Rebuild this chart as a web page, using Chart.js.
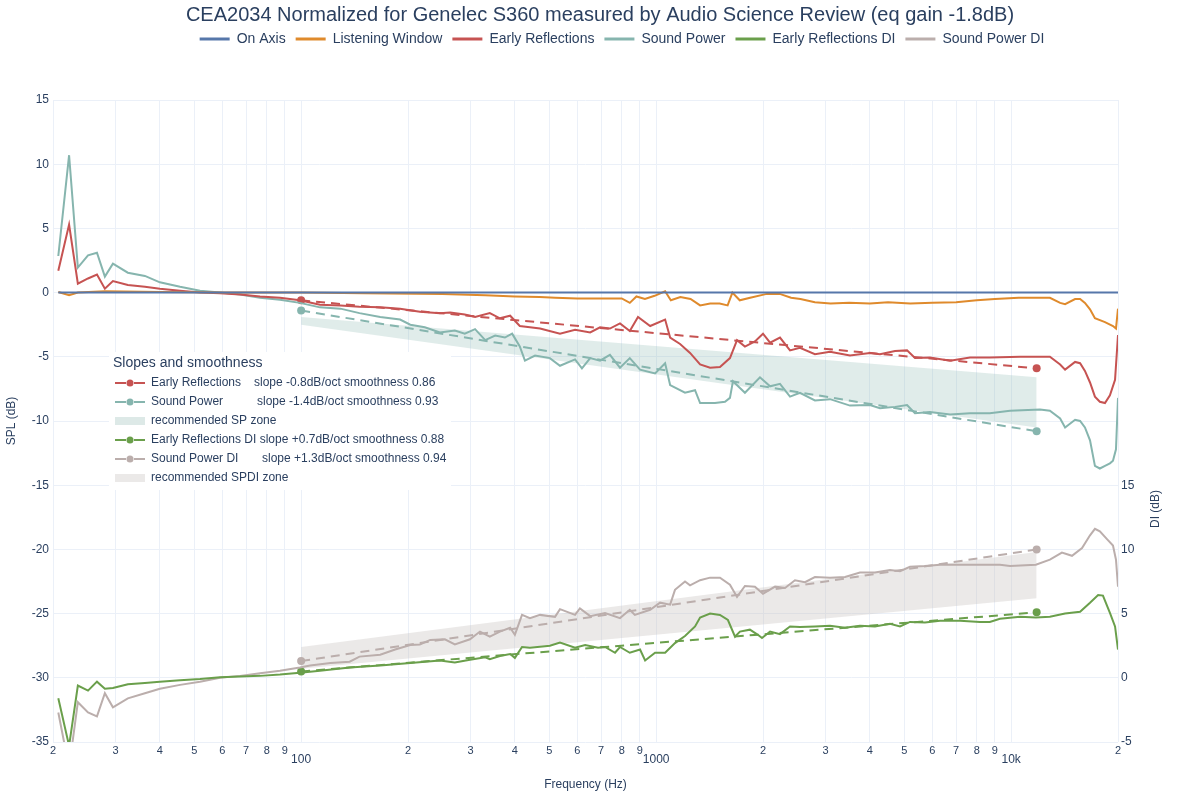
<!DOCTYPE html>
<html>
<head>
<meta charset="utf-8">
<title>CEA2034 Genelec S360</title>
<script src="https://cdn.jsdelivr.net/npm/chart.js@4.4.1/dist/chart.umd.min.js"></script>
<style>
  html, body { margin: 0; padding: 0; background: #fff; }
  #wrap { width: 1200px; height: 800px; }
</style>
</head>
<body>
<div id="wrap"><canvas id="cea"></canvas></div>
<script>
// data (Hz / dB)
const onAxisFreq = [20.7, 20000];
const onAxisSpl = [0, 0];

const lwFreq = [20.7, 22.2, 23.5, 28, 40, 60, 100, 150, 250, 330,
    400, 470, 520, 600, 700, 800, 843, 880, 930, 990,
    1060, 1100, 1170, 1250, 1330, 1420, 1510, 1590, 1640, 1720,
    1840, 2050, 2230, 2400, 2550, 2800, 3100, 3500, 4000, 4500,
    5200, 6000, 7000, 8000, 9000, 10500, 12000, 12860, 13740, 14190,
    15140, 15640, 16140, 16680, 17220, 18380, 19360, 19740, 20000];
const lwSpl = [0.05, -0.2, 0.0, 0.1, 0.05, 0.0, 0.0, -0.05, -0.1, -0.2,
    -0.3, -0.35, -0.4, -0.45, -0.45, -0.45, -0.8, -0.3, -0.5, -0.25,
    0.1, -0.6, -0.35, -0.5, -1.0, -0.85, -0.85, -1.0, 0.0, -0.6,
    -0.4, -0.1, -0.1, -0.4, -0.5, -0.75, -0.85, -0.8, -0.85, -0.75,
    -0.85, -0.8, -0.75, -0.6, -0.5, -0.4, -0.4, -0.4, -0.8, -0.9,
    -0.5, -0.5, -0.8, -1.3, -2.0, -2.3, -2.6, -2.8, -1.25];

const erFreq = [20.7, 22.2, 23.5, 25.1, 26.6, 28.0, 29.5, 32.5, 36.3, 40,
    45.6, 51.9, 59.1, 67.3, 76.6, 87.2, 99.2, 113, 129, 146,
    167, 190, 216, 246, 263, 289, 309, 340, 363, 388,
    413, 441, 471, 536, 591, 652, 695, 741, 791, 843,
    889, 962, 1060, 1095, 1168, 1246, 1330, 1419, 1513, 1614,
    1690, 1779, 1898, 2000, 2094, 2233, 2383, 2542, 2801, 3089,
    3516, 4002, 4271, 4710, 5091, 5359, 5905, 6729, 7660, 8710,
    10600, 12060, 12860, 13740, 14190, 15140, 15640, 16140, 16680, 17220,
    17780, 18380, 18980, 19620, 20000];
const erSpl = [1.7, 5.3, 0.7, 1.1, 1.4, 0.3, 0.9, 0.6, 0.45, 0.3,
    0.15, 0.0, -0.05, -0.15, -0.3, -0.4, -0.6, -0.95, -1.0, -1.1,
    -1.15, -1.25, -1.5, -1.6, -1.55, -1.7, -1.9, -1.6, -2.0, -1.8,
    -2.6, -2.7, -2.8, -3.2, -2.9, -3.1, -2.7, -2.8, -2.4, -3.0,
    -1.9, -2.6, -2.1, -3.5, -4.0, -4.7, -5.6, -5.85, -5.8, -5.1,
    -3.7, -4.2, -3.8, -3.2, -3.9, -3.5, -4.5, -4.3, -4.8, -4.6,
    -4.9, -4.7, -4.8, -4.55, -4.5, -5.1, -5.05, -5.3, -5.05, -5.05,
    -5.0, -5.0, -5.0, -5.6, -6.0, -5.4, -5.5, -6.1, -7.0, -8.1,
    -8.5, -8.6, -8.0, -6.8, -3.3];

const spFreq = [20.7, 22.2, 23.5, 25.1, 26.6, 28.0, 29.5, 32.5, 36.3, 40,
    45.6, 51.9, 59.1, 67.3, 76.6, 87.2, 99.2, 113, 129, 146,
    167, 190, 203, 223, 246, 271, 289, 309, 330, 352,
    375, 393, 413, 427, 456, 502, 536, 591, 618, 652,
    695, 741, 791, 843, 901, 993, 1060, 1095, 1206, 1287,
    1330, 1465, 1563, 1614, 1646, 1779, 1961, 2094, 2233, 2383,
    2542, 2801, 3089, 3516, 4002, 4271, 4710, 5091, 5359, 5905,
    6729, 7660, 8710, 9930, 12060, 12860, 13740, 14190, 15140, 15640,
    16140, 16680, 17220, 17780, 18380, 18980, 19360, 19740, 20000];
const spSpl = [2.85, 10.7, 1.95, 2.9, 3.1, 1.25, 2.25, 1.55, 1.3, 0.8,
    0.45, 0.15, 0.0, -0.15, -0.4, -0.55, -0.8, -1.15, -1.25, -1.6,
    -1.9, -2.1, -2.5, -2.7, -3.1, -2.95, -3.2, -2.85, -3.7, -3.35,
    -3.5, -3.2, -4.2, -5.3, -4.9, -5.1, -5.7, -5.2, -5.9, -5.1,
    -5.3, -4.85, -5.85, -5.1, -6.0, -6.3, -5.5, -7.2, -7.8, -7.6,
    -8.6, -8.6, -8.5, -8.2, -6.9, -7.8, -6.6, -7.3, -7.1, -8.1,
    -7.8, -8.4, -8.3, -8.8, -8.75, -9.0, -8.9, -8.75, -9.4, -9.3,
    -9.5, -9.4, -9.4, -9.2, -9.1, -9.2, -9.8, -10.5, -9.9, -10.0,
    -10.5, -11.5, -13.5, -13.7, -13.5, -13.3, -13.1, -12.2, -8.2];

const erdiFreq = [20.7, 22.2, 23.5, 25.1, 26.6, 28.0, 29.5, 32.5, 36.3, 40,
    45.6, 51.9, 59.1, 67.3, 76.6, 87.2, 99.2, 113, 137, 167,
    203, 246, 271, 299, 330, 340, 363, 388, 400, 419,
    441, 502, 536, 591, 631, 686, 718, 766, 791, 843,
    901, 931, 993, 1060, 1130, 1206, 1287, 1330, 1419, 1513,
    1593, 1668, 1722, 1837, 1935, 1987, 2094, 2233, 2383, 2542,
    2801, 3089, 3405, 3751, 4134, 4559, 4864, 5188, 5718, 6305,
    7180, 8170, 8710, 9300, 10600, 11740, 12860, 14190, 15640, 16680,
    17580, 18140, 18980, 19620, 20000];
const erdiVal = [-1.6, -5.3, -0.6, -1.0, -0.3, -0.85, -0.8, -0.5, -0.4, -0.3,
    -0.2, -0.1, 0.05, 0.1, 0.15, 0.25, 0.4, 0.55, 0.8, 0.95,
    1.15, 1.35, 1.2, 1.4, 1.6, 1.45, 1.7, 1.85, 1.55, 2.4,
    2.35, 2.5, 2.75, 2.35, 2.55, 2.35, 2.4, 1.95, 2.4, 1.95,
    2.2, 1.35, 1.95, 1.95, 2.7, 3.25, 4.0, 4.7, 5.0, 4.9,
    4.5, 3.2, 3.6, 3.75, 3.35, 3.1, 3.6, 3.4, 4.0, 3.95,
    4.0, 4.05, 3.9, 4.05, 4.0, 4.2, 4.0, 4.35, 4.3, 4.45,
    4.45, 4.35, 4.35, 4.6, 4.75, 4.7, 4.75, 5.0, 5.15, 5.85,
    6.45, 6.4, 5.05, 4.0, 2.2];

const spdiFreq = [20.7, 22.2, 23.5, 25.1, 26.6, 28.0, 29.5, 32.5, 36.3, 40,
    45.6, 51.9, 59.1, 67.3, 76.6, 87.2, 99.2, 106, 121, 137,
    146, 167, 184, 203, 216, 231, 254, 271, 299, 319,
    340, 363, 388, 400, 419, 441, 471, 519, 536, 591,
    610, 652, 718, 791, 843, 871, 962, 1026, 1095, 1130,
    1206, 1246, 1330, 1419, 1513, 1614, 1690, 1779, 1898, 2000,
    2163, 2307, 2461, 2626, 2801, 3089, 3405, 3751, 4134, 4559,
    4864, 5188, 5718, 6305, 7180, 8170, 9300, 9930, 11740, 12860,
    13900, 14840, 15840, 16680, 17220, 17780, 18620, 19360, 19740, 20000];
const spdiVal = [-2.7, -7.0, -1.9, -2.7, -3.0, -1.2, -2.3, -1.6, -1.2, -0.85,
    -0.55, -0.3, 0.0, 0.15, 0.35, 0.55, 0.8, 0.95, 1.15, 1.25,
    1.65, 1.8, 2.2, 2.55, 2.6, 2.95, 3.0, 2.6, 3.0, 3.6,
    3.2, 3.6, 3.9, 3.35, 4.9, 4.65, 4.9, 4.75, 5.35, 4.9,
    5.4, 4.8, 5.05, 4.65, 5.3, 4.9, 5.3, 5.85, 5.7, 6.85,
    7.5, 7.2, 7.6, 7.8, 7.8, 7.25, 6.3, 7.15, 7.1, 6.55,
    7.1, 7.0, 7.6, 7.45, 7.85, 7.8, 7.85, 8.2, 8.2, 8.4,
    8.3, 8.65, 8.7, 8.8, 8.8, 8.8, 8.8, 8.7, 8.8, 9.2,
    9.75, 9.5, 10.1, 11.1, 11.6, 11.4, 10.8, 10.3, 9.2, 7.1];

// regression lines and recommended zones (100 Hz .. ~12 kHz)
const trendFreq = [100, 11800];
const erTrend = [-0.6, -5.9];
const spTrend = [-1.4, -10.8];
const erdiTrend = [0.5, 5.1];
const spdiTrend = [1.3, 10.0];
const spZoneTop = [-1.9, -6.6];
const spZoneBottom = [-2.5, -10.5];
const spdiZoneTop = [2.4, 9.8];
const spdiZoneBottom = [0.7, 6.2];

const freqTicks = [20, 30, 40, 50, 60, 70, 80, 90, 100, 200, 300, 400, 500, 600, 700, 800, 900,
    1000, 2000, 3000, 4000, 5000, 6000, 7000, 8000, 9000, 10000, 20000];
const tickLabels = ['2', '3', '4', '5', '6', '7', '8', '9', '100', '2', '3', '4', '5', '6', '7', '8', '9',
    '1000', '2', '3', '4', '5', '6', '7', '8', '9', '10k', '2'];
const majorTicks = [100, 1000, 10000];

const slopeNames = ['Early Reflections', 'Sound Power', 'recommended SP zone',
    'Early Reflections DI slope +0.7dB/oct smoothness 0.88', 'Sound Power DI', 'recommended SPDI zone'];
const slopeTexts = ['slope -0.8dB/oct smoothness 0.86', 'slope -1.4dB/oct smoothness 0.93', '',
    '', 'slope +1.3dB/oct smoothness 0.94', ''];

const colors = {
    onAxis: '#5677aa', lw: '#df8a2c', er: '#c65352', sp: '#86b5ae',
    erdi: '#6a9f4b', spdi: '#bbaeac', spZone: 'rgba(134,181,174,0.26)', spdiZone: 'rgba(200,194,191,0.36)'
};
const textColor = '#2a3f5f';
const gridColor = '#ebf0f8';
const fontFamily = '"Liberation Sans", Arial, sans-serif';

Chart.defaults.font.family = fontFamily;
Chart.defaults.color = textColor;

const pts = (f, v) => f.map((x, i) => ({ x: x, y: v[i] }));

function curve(label, f, v, color, axis) {
    return { label, data: pts(f, v), borderColor: color, backgroundColor: color, borderWidth: 2,
        pointRadius: 0, fill: false, yAxisID: axis };
}
function trend(label, v, color, axis) {
    return { label, data: pts(trendFreq, v), borderColor: color, backgroundColor: color, borderWidth: 2,
        borderDash: [9, 6], pointRadius: 4, pointBorderWidth: 0, fill: false, yAxisID: axis };
}
function zoneEdge(label, v, color, axis, fillTo) {
    return { label, data: pts(trendFreq, v), borderColor: 'rgba(0,0,0,0)', backgroundColor: color,
        borderWidth: 0, pointRadius: 0, fill: fillTo, yAxisID: axis };
}

// second legend: slopes and smoothness
const slopesBox = {
    id: 'slopesBox',
    afterDraw(chart) {
        const c = chart.ctx;
        const symColors = [colors.er, colors.sp, '#dde9e7', colors.erdi, colors.spdi, '#ebe9e8'];
        const textX = [254, 257, 0, 0, 262, 0];
        c.save();
        c.fillStyle = '#ffffff';
        c.fillRect(109, 352, 342, 138);
        c.textBaseline = 'middle';
        c.fillStyle = textColor;
        c.font = '14px ' + fontFamily;
        c.fillText('Slopes and smoothness', 113, 363);
        c.font = '12px ' + fontFamily;
        slopeNames.forEach((name, i) => {
            const y = 383 + i * 19;
            const col = symColors[i];
            if (i === 2 || i === 5) {
                c.fillStyle = col;
                c.fillRect(115, y - 4, 30, 8);
            } else {
                c.strokeStyle = col;
                c.lineWidth = 2;
                c.beginPath();
                c.moveTo(115, y); c.lineTo(126, y);
                c.moveTo(134, y); c.lineTo(145, y);
                c.stroke();
                c.fillStyle = col;
                c.beginPath();
                c.arc(130, y, 3.5, 0, Math.PI * 2);
                c.fill();
            }
            c.fillStyle = textColor;
            c.fillText(name, 151, y);
            if (slopeTexts[i]) c.fillText(slopeTexts[i], textX[i], y);
        });
        // right axis title sits level with the DI range
        c.translate(1156, 509);
        c.rotate(-Math.PI / 2);
        c.textAlign = 'center';
        c.fillText('DI (dB)', 0, 0);
        c.restore();
    }
};

// extra room below the legend, and legend nudged right like the original
const legendSpace = {
    id: 'legendSpace',
    beforeInit(chart) {
        const fit = chart.legend.fit;
        chart.legend.fit = function () {
            fit.bind(chart.legend)();
            this.height += 44;
        };
    },
    afterLayout(chart) {
        chart.legend.left += 22;
        chart.legend.right += 22;
    }
};

new Chart(document.getElementById('cea'), {
    type: 'line',
    data: {
        datasets: [
            curve('On Axis', onAxisFreq, onAxisSpl, colors.onAxis, 'y'),
            curve('Listening Window', lwFreq, lwSpl, colors.lw, 'y'),
            curve('Early Reflections', erFreq, erSpl, colors.er, 'y'),
            curve('Sound Power', spFreq, spSpl, colors.sp, 'y'),
            curve('Early Reflections DI', erdiFreq, erdiVal, colors.erdi, 'y2'),
            curve('Sound Power DI', spdiFreq, spdiVal, colors.spdi, 'y2'),
            trend('ER slope', erTrend, colors.er, 'y'),
            trend('SP slope', spTrend, colors.sp, 'y'),
            trend('ERDI slope', erdiTrend, colors.erdi, 'y2'),
            trend('SPDI slope', spdiTrend, colors.spdi, 'y2'),
            zoneEdge('SP zone', spZoneTop, colors.spZone, 'y', '+1'),
            zoneEdge('SP zone low', spZoneBottom, colors.spZone, 'y', false),
            zoneEdge('SPDI zone', spdiZoneTop, colors.spdiZone, 'y2', '+1'),
            zoneEdge('SPDI zone low', spdiZoneBottom, colors.spdiZone, 'y2', false)
        ]
    },
    options: {
        responsive: true,
        maintainAspectRatio: false,
        animation: false,
        layout: { padding: 0 },
        plugins: {
            title: {
                display: true,
                text: 'CEA2034 Normalized for Genelec S360 measured by Audio Science Review (eq gain -1.8dB)',
                color: textColor,
                font: { size: 20, weight: 'normal' },
                padding: { top: 3, bottom: -5 }
            },
            legend: {
                position: 'top',
                labels: {
                    boxWidth: 30,
                    boxHeight: 3,
                    padding: 10,
                    color: textColor,
                    font: { size: 14 },
                    generateLabels: (chart) => Chart.defaults.plugins.legend.labels.generateLabels(chart)
                        .filter(item => item.datasetIndex < 6)
                        .map(item => ({ ...item, fillStyle: item.strokeStyle, lineWidth: 0 }))
                }
            },
            tooltip: { enabled: false }
        },
        scales: {
            x: {
                type: 'logarithmic',
                min: 20,
                max: 20000,
                afterBuildTicks: (scale) => { scale.ticks = freqTicks.map(v => ({ value: v })); },
                afterFit: (scale) => { scale.height = 58; },
                grid: { color: gridColor, drawTicks: false },
                border: { display: false },
                ticks: {
                    autoSkip: false,
                    maxRotation: 0,
                    padding: 2,
                    color: textColor,
                    font: (ctx) => (ctx.tick && majorTicks.includes(ctx.tick.value))
                        ? { size: 12, lineHeight: 0.89 } : { size: 11 },
                    callback: (value, index) => majorTicks.includes(value) ? ['', tickLabels[index]] : tickLabels[index]
                },
                title: { display: true, text: 'Frequency (Hz)', color: textColor, font: { size: 12 },
                    padding: { top: 0, bottom: 8 } }
            },
            y: {
                position: 'left',
                min: -35,
                max: 15,
                afterFit: (scale) => { scale.width = 53; },
                grid: { color: gridColor, drawTicks: false },
                border: { display: false },
                ticks: { stepSize: 5, padding: 4, color: textColor, font: { size: 12 } },
                title: { display: true, text: 'SPL (dB)', color: textColor, font: { size: 12 }, padding: 4 }
            },
            y2: {
                position: 'right',
                min: -5,
                max: 45,
                afterFit: (scale) => { scale.width = 82; },
                grid: { display: false, drawTicks: false },
                border: { display: false },
                ticks: { stepSize: 5, padding: 3, color: textColor, font: { size: 12 },
                    callback: (v) => v <= 15 ? v : '' }
            }
        }
    },
    plugins: [legendSpace, slopesBox]
});
</script>
</body>
</html>
